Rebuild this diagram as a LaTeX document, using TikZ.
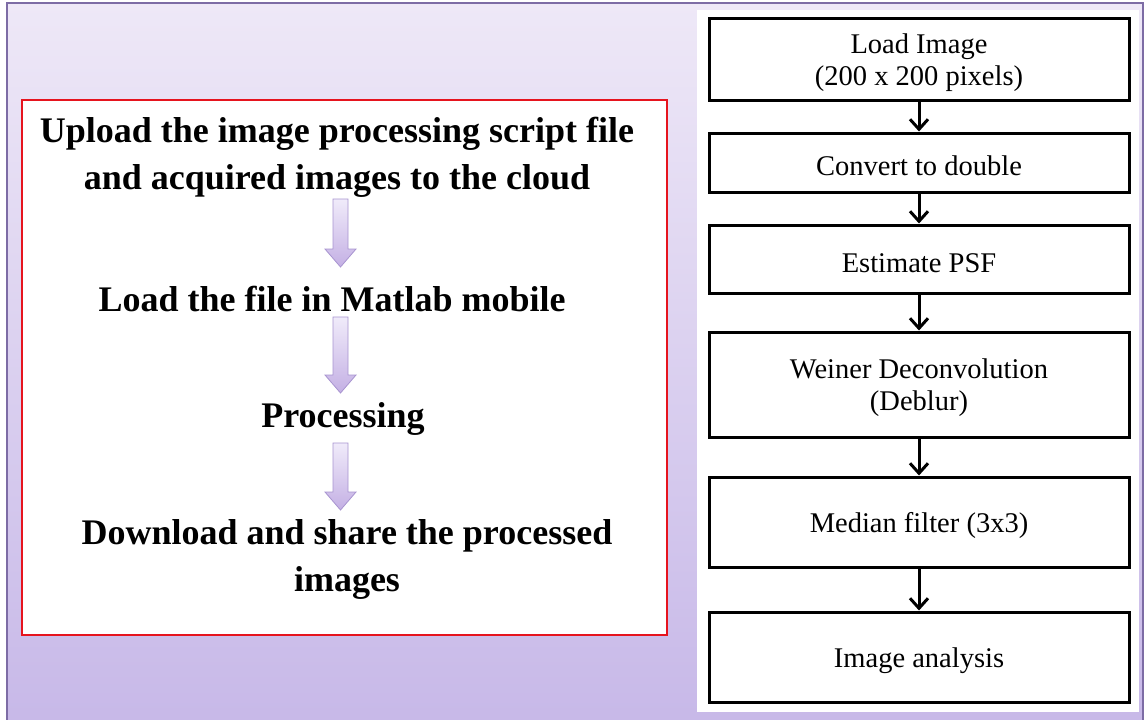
\documentclass[tikz,border=0pt]{standalone}
\usepackage{fontspec}
\setmainfont{Liberation Serif}
\usetikzlibrary{arrows.meta}
\definecolor{bgtop}{RGB}{238,232,247}
\definecolor{bgbot}{RGB}{199,184,232}
\definecolor{framec}{RGB}{125,108,165}
\definecolor{arrtop}{RGB}{240,235,250}
\definecolor{arrbot}{RGB}{196,176,228}
\definecolor{arrline}{RGB}{168,148,208}
\definecolor{redc}{RGB}{230,20,30}
\newcommand{\tstrut}{\rule{0pt}{27pt}}
\tikzset{
  stepbox/.style={draw=black, line width=3pt, fill=white, minimum width=420pt, inner sep=0pt, align=center, font=\fontsize{28.5}{32}\selectfont},
  boldtext/.style={align=center, inner sep=0pt, font=\fontsize{36}{47}\selectfont\bfseries},
  flowarrow/.style={line width=3pt, -{Straight Barb[length=10pt,width=18pt,line width=3pt]}},
  blockarrow/.style={top color=arrtop, bottom color=arrbot, draw=arrline, line width=0.8pt}
}
\begin{document}
\begin{tikzpicture}[x=1pt,y=-1pt]
\useasboundingbox (0,0) rectangle (1146,720);
\clip (0,0) rectangle (1146,720);
% background frame
\path[top color=bgtop, bottom color=bgbot, draw=framec, line width=1.2pt] (7,3) rectangle (1143,730);
% left red box
\path[fill=white, draw=redc, line width=1.2pt] (22,100) rectangle (667,635);
% right white panel
\path[fill=white] (697,10) rectangle (1139,712);

% left texts
\node[boldtext] (t1) at (337,157) {Upload the image processing script file\\and acquired images to the cloud};
\node[boldtext] (t2) at (332,299) {Load the file in Matlab mobile};
\node[boldtext] (t3) at (343,419) {Processing};
\node[boldtext] (t4) at (347,559) {Download and share the processed\\images};

% block arrows
\foreach \top/\tip in {199/267, 317/393, 443/510} {
  \path[blockarrow] (333,\top) -- (348,\top) -- (348,\tip-18) -- (356,\tip-18) -- (340.5,\tip) -- (325,\tip-18) -- (333,\tip-18) -- cycle;
}

% right flowchart
\node[stepbox, minimum height=82pt] (b1) at (919,59) {\tstrut Load Image\\(200 x 200 pixels)};
\node[stepbox, minimum height=59pt] (b2) at (919,162.5) {\tstrut Convert to double};
\node[stepbox, minimum height=68pt] (b3) at (919,259) {\tstrut Estimate PSF};
\node[stepbox, minimum height=105pt] (b4) at (919,384.5) {\tstrut Weiner Deconvolution\\(Deblur)};
\node[stepbox, minimum height=90pt] (b5) at (919,522) {\tstrut Median filter (3x3)};
\node[stepbox, minimum height=90pt] (b6) at (919,657) {\tstrut Image analysis};

\draw[flowarrow] (b1.south) -- (b2.north);
\draw[flowarrow] (b2.south) -- (b3.north);
\draw[flowarrow] (b3.south) -- (b4.north);
\draw[flowarrow] (b4.south) -- (b5.north);
\draw[flowarrow] (b5.south) -- (b6.north);
\end{tikzpicture}
\end{document}
